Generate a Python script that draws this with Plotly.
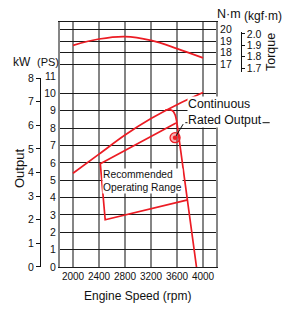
import plotly.graph_objects as go

# ---------------- data ----------------
SPEED_TICKS = [2000, 2400, 2800, 3200, 3600, 4000]
PS_TICKS = list(range(0, 12))
KW_TICKS = list(range(0, 9))
NM_TICKS = [17, 18, 19, 20]
KGF_TICKS = [1.7, 1.8, 1.9, 2.0]
KGF_LABELS = ["1.7", "1.8", "1.9", "2.0"]

TORQUE_RPM = [2000, 2400, 2800, 3200, 3600, 4000]
TORQUE_NM = [18.63, 19.17, 19.38, 19.05, 18.35, 17.55]

MAX_RPM = [2000, 2400, 2800, 3200, 3600, 4000]
MAX_PS = [5.4, 6.5, 7.6, 8.55, 9.35, 10.05]

DROOP_RPM = [3420, 3500, 3545, 3572, 3592, 3610, 3900]
DROOP_PS = [9.05, 9.05, 8.95, 8.75, 8.45, 8.0, 0.0]

RANGE_RPM = [3585, 2420, 2495, 3765]
RANGE_PS = [8.3, 5.95, 2.72, 3.87]

RATED_RPM = [3570]
RATED_PS = [7.45]

# ---------------- style / layout constants ----------------
RED = "#ec1c24"
VGRID = "#858585"
HGRID = "#1a1a1a"
FONT = "Liberation Sans, Arial, sans-serif"

W, H = 284, 311
ML, MR, MT, MB = 10, 5, 22, 44
PW = W - ML - MR
PH = H - MT - MB

def px_x(p):
    return (p - ML) / PW

def px_y(p):
    return (H - MB - p) / PH

XDOM = [px_x(60), px_x(216)]
SPLIT = px_y(76)
PS_MAX = 11
NM_MIN, NM_MAX = 16, 20.63

def ps_frac(v):
    return v / PS_MAX * SPLIT

def nm_frac(t):
    return SPLIT + (t - NM_MIN) / (NM_MAX - NM_MIN) * (1 - SPLIT)

KW_TOP = 8
KW_DOM = [0, ps_frac(KW_TOP * 1.35962)]
KGF_RANGE = [1.669, 2.0186]
KGF_DOM = [nm_frac(KGF_RANGE[0] * 9.80665), nm_frac(KGF_RANGE[1] * 9.80665)]

fig = go.Figure()

common = dict(showlegend=False, hoverinfo="skip")
fig.add_trace(go.Scatter(x=TORQUE_RPM, y=TORQUE_NM, mode="lines",
                         line=dict(color=RED, width=1.7, shape="spline"), xaxis="x2", yaxis="y2", **common))
fig.add_trace(go.Scatter(x=MAX_RPM, y=MAX_PS, mode="lines",
                         line=dict(color=RED, width=1.7, shape="spline"), **common))
fig.add_trace(go.Scatter(x=DROOP_RPM, y=DROOP_PS, mode="lines",
                         line=dict(color=RED, width=1.7, shape="spline", smoothing=0.5), **common))
fig.add_trace(go.Scatter(x=RANGE_RPM, y=RANGE_PS, mode="lines",
                         line=dict(color=RED, width=1.7), **common))
fig.add_trace(go.Scatter(x=RATED_RPM, y=RATED_PS, mode="markers",
                         marker=dict(size=10, color="rgba(236,28,36,0.35)", line=dict(color=RED, width=1.3)), **common))
fig.add_trace(go.Scatter(x=RATED_RPM, y=RATED_PS, mode="markers",
                         marker=dict(size=4.5, color=RED), **common))
# dummy traces for the side scale axes
fig.add_trace(go.Scatter(x=[None], y=[None], xaxis="x3", yaxis="y3", **common))
fig.add_trace(go.Scatter(x=[None], y=[None], xaxis="x3", yaxis="y4", **common))

tickfont = dict(family=FONT, size=10.5, color="#111")

fig.update_layout(
    width=W, height=H,
    margin=dict(l=ML, r=MR, t=MT, b=MB, pad=0),
    paper_bgcolor="white", plot_bgcolor="rgba(0,0,0,0)",
    font=dict(family=FONT, size=12, color="#111"),
    xaxis=dict(domain=XDOM, anchor="y", range=[1800, 4200], tickvals=SPEED_TICKS,
               ticktext=[str(v) for v in SPEED_TICKS], tickangle=0, automargin=False,
               showgrid=True, gridcolor=VGRID, gridwidth=2, showline=True, linecolor=HGRID, linewidth=1.3,
               mirror=False, ticks="", tickfont=dict(family=FONT, size=10, color="#111"), zeroline=False),
    yaxis=dict(domain=[0, SPLIT], anchor="x", range=[0, PS_MAX], tickvals=PS_TICKS, automargin=False,
               showgrid=True, gridcolor=HGRID, gridwidth=1.3, showline=True, linecolor=VGRID, linewidth=2, mirror=True,
               ticks="", tickfont=tickfont, zeroline=False),
    xaxis2=dict(domain=XDOM, anchor="y2", matches="x", side="top", tickvals=SPEED_TICKS, showticklabels=False,
                automargin=False,
                showgrid=True, gridcolor=VGRID, gridwidth=2, showline=True, linecolor=HGRID, linewidth=1.3,
                mirror=False, ticks="", zeroline=False),
    yaxis2=dict(domain=[SPLIT, 1], anchor="x2", side="right", range=[NM_MIN, NM_MAX], tickvals=NM_TICKS,
                automargin=False,
                showgrid=True, gridcolor=HGRID, gridwidth=1.3, showline=True, linecolor=VGRID, linewidth=2, mirror=True,
                ticks="", tickfont=tickfont, zeroline=False),
    xaxis3=dict(domain=XDOM, anchor="y3", range=[0, 1], visible=False),
    yaxis3=dict(domain=KW_DOM, anchor="free", position=px_x(40), side="left", range=[0, KW_TOP], tickvals=KW_TICKS,
                automargin=False,
                showgrid=False, showline=True, linecolor="#111", linewidth=1, ticks="outside", ticklen=4,
                tickcolor="#111", tickwidth=1, tickfont=tickfont, zeroline=False),
    yaxis4=dict(domain=KGF_DOM, anchor="free", position=px_x(240.7), side="right", range=KGF_RANGE,
                tickvals=KGF_TICKS, ticktext=KGF_LABELS, automargin=False,
                showgrid=False, showline=True, linecolor="#111", linewidth=1, ticks="outside", ticklen=3,
                tickcolor="#111", tickwidth=1, tickfont=tickfont, zeroline=False),
)

def label(text, cx, cy, size, angle=0):
    return dict(text=text, x=px_x(cx), y=px_y(cy), xref="paper", yref="paper", showarrow=False,
                font=dict(family=FONT, size=size, color="#111"), textangle=angle,
                xanchor="center", yanchor="middle")

annotations = [
    label("Engine Speed (rpm)", 137, 296, 12),
    label("Output", 19, 169, 13, -90),
    label("Torque", 271, 52, 12.5, -90),
    label("kW", 22, 62.5, 12),
    label("(PS)", 48, 62.5, 11),
    label("N·m", 229, 13.5, 12.5),
    label("(kgf·m)", 263, 16.5, 12),
    dict(text="Recommended<br>Operating Range", x=px_x(102), y=px_y(168), xref="paper", yref="paper",
         showarrow=False, font=dict(family=FONT, size=10.3, color="#111"), align="left",
         xanchor="left", yanchor="top", bgcolor="white", borderpad=0),
    dict(text="Continuous<br>Rated Output", x=px_x(187), y=px_y(96), xref="paper", yref="paper",
         showarrow=False, font=dict(family=FONT, size=12.3, color="#111"), align="left",
         xanchor="left", yanchor="top", bgcolor="white", borderpad=0),
    dict(text="", x=RATED_RPM[0], y=RATED_PS[0], xref="x", yref="y", showarrow=True, arrowhead=0,
         arrowwidth=1, arrowcolor="#111", ax=9, ay=-15, standoff=2),
]
fig.update_layout(annotations=annotations)
fig.add_shape(type="line", xref="paper", yref="paper", x0=px_x(185.3), x1=px_x(269.7),
              y0=px_y(122.7), y1=px_y(122.7), line=dict(color="#111", width=1))

fig.write_html("out.html", config={"displayModeBar": False},
               post_script="document.body.style.margin='0';document.body.style.overflow='hidden';")
